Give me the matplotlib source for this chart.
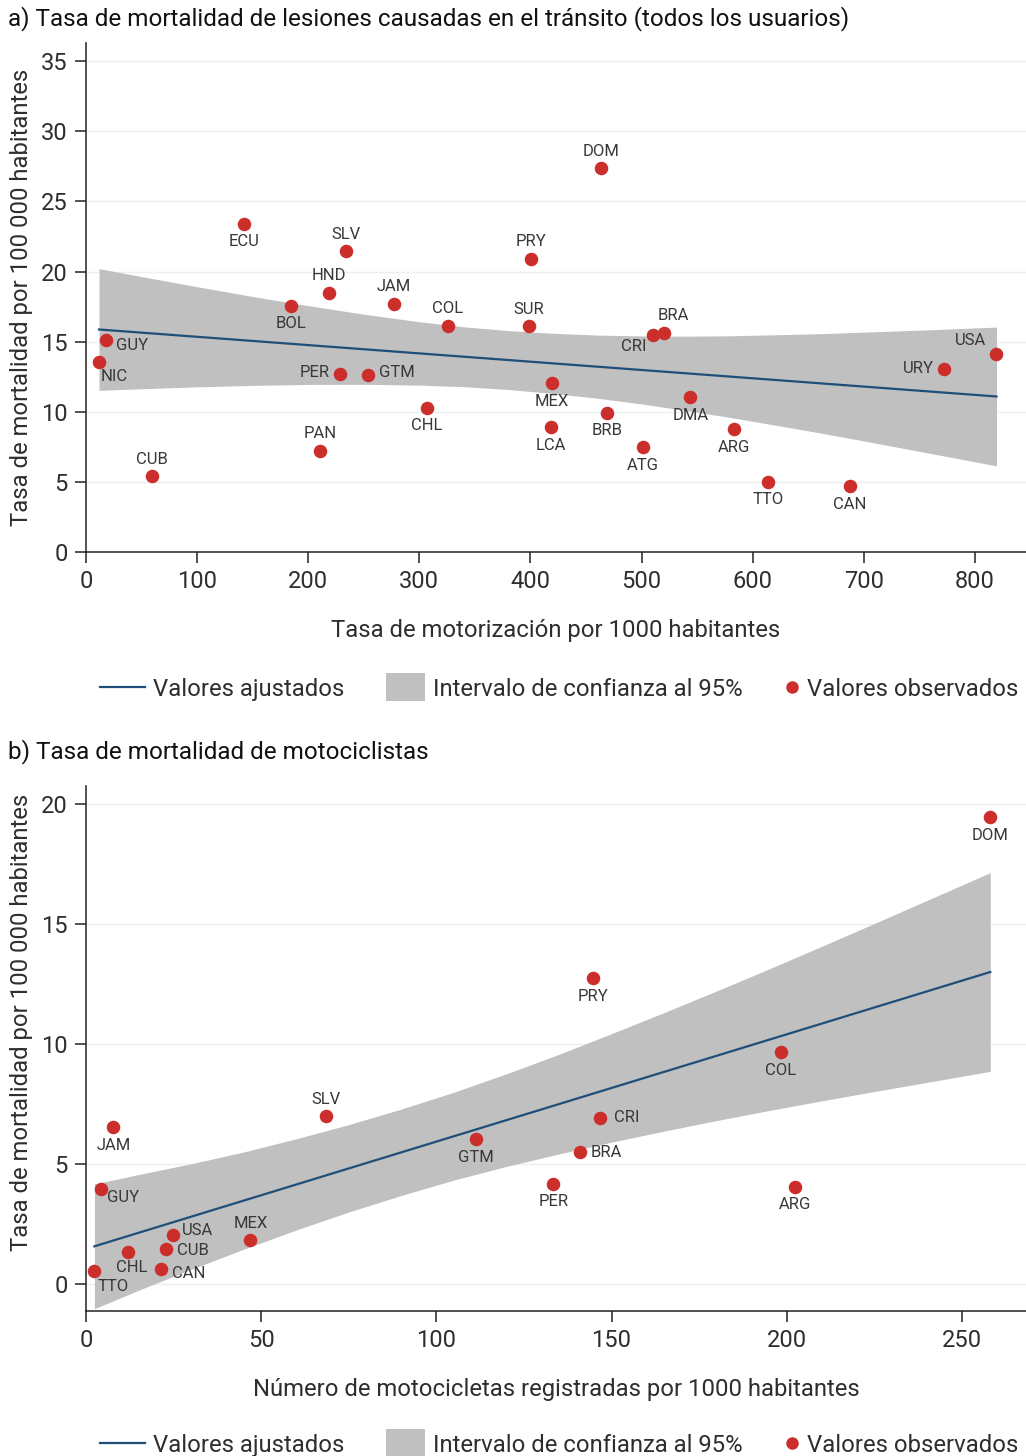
import numpy as np
import matplotlib
matplotlib.use("Agg")
import matplotlib.pyplot as plt
from matplotlib.lines import Line2D
from matplotlib.patches import Rectangle

plt.rcParams['font.family'] = ['Roboto', 'DejaVu Sans']

# ====== panel a: datos ======
paises_a = ["ECU", "SLV", "HND", "BOL", "JAM", "COL", "GUY", "NIC", "PER", "GTM",
            "CHL", "PAN", "CUB", "DOM", "PRY", "SUR", "CRI", "BRA", "USA", "URY",
            "MEX", "DMA", "BRB", "LCA", "ATG", "ARG", "TTO", "CAN"]
motorizacion = [142.3, 234.2, 218.9, 184.7, 277.2, 325.8, 18.0, 11.7, 228.2, 254.1,
                306.9, 210.5, 59.2, 463.2, 400.5, 398.3, 510.3, 520.3, 818.6, 771.9,
                419.3, 543.9, 468.6, 418.7, 501.2, 583.3, 613.8, 687.2]
mortalidad_a = [23.4, 21.45, 18.5, 17.55, 17.7, 16.15, 15.13, 13.57, 12.67, 12.59,
                10.29, 7.22, 5.39, 27.35, 20.91, 16.11, 15.45, 15.63, 14.13, 13.02,
                12.02, 11.03, 9.93, 8.89, 7.48, 8.77, 5.01, 4.70]

ajuste_x_a = [11.7, 819.5]
ajuste_y_a = [15.87, 11.09]
banda_x_a = [11.7, 50, 100, 150, 200, 250, 300, 340, 380, 420, 460, 500, 540, 580,
             620, 660, 700, 760, 819.5]
banda_sup_a = [20.21, 19.64, 18.92, 18.22, 17.57, 16.96, 16.42, 16.06, 15.79, 15.60,
               15.47, 15.41, 15.39, 15.42, 15.49, 15.57, 15.68, 15.85, 16.04]
banda_inf_a = [11.53, 11.64, 11.78, 11.88, 11.95, 11.96, 11.90, 11.79, 11.59, 11.31,
               10.97, 10.56, 10.09, 9.59, 9.05, 8.50, 7.92, 7.03, 6.14]

# ====== panel b: datos ======
paises_b = ["DOM", "PRY", "COL", "CRI", "GTM", "BRA", "PER", "ARG", "SLV", "JAM",
            "GUY", "USA", "CUB", "CAN", "CHL", "MEX", "TTO"]
motos = [258.1, 144.7, 198.3, 146.6, 111.3, 140.9, 133.4, 202.5, 68.4, 7.8,
         4.4, 24.8, 22.8, 21.5, 12.1, 46.9, 2.4]
mortalidad_b = [19.45, 12.74, 9.65, 6.90, 6.04, 5.51, 4.17, 4.05, 6.99, 6.54,
                3.97, 2.03, 1.44, 0.63, 1.35, 1.82, 0.53]

ajuste_x_b = [2.4, 258.1]
ajuste_y_b = [1.57, 13.00]
banda_x_b = [2.4, 15, 30, 45, 60, 75, 90, 105, 120, 135, 150, 165, 180, 195, 210,
             225, 240, 258.1]
banda_sup_b = [4.17, 4.56, 5.01, 5.50, 6.05, 6.64, 7.29, 7.99, 8.76, 9.57, 10.43,
               11.31, 12.21, 13.13, 14.07, 15.02, 15.98, 17.14]
banda_inf_b = [-1.03, -0.26, 0.61, 1.45, 2.25, 3.00, 3.69, 4.33, 4.90, 5.42, 5.91,
               6.37, 6.81, 7.23, 7.63, 8.02, 8.40, 8.86]

ticks_x_a = [0, 100, 200, 300, 400, 500, 600, 700, 800]
ticks_y_a = [0, 5, 10, 15, 20, 25, 30, 35]
ticks_x_b = [0, 50, 100, 150, 200, 250]
ticks_y_b = [0, 5, 10, 15, 20]

# label placement (pixel offsets, ha)
N = (0, 17, 'center')
S = (0, -18, 'center')
pos_a = {"ECU": S, "SLV": N, "HND": N, "BOL": S, "JAM": N, "COL": N, "DOM": N,
         "PRY": N, "SUR": N, "PAN": N, "CUB": N, "CHL": S, "MEX": S, "DMA": S,
         "BRB": S, "LCA": S, "ATG": S, "ARG": S, "TTO": S, "CAN": S,
         "GUY": (10, -6, 'left'), "NIC": (2, -15, 'left'), "PER": (-10, 2, 'right'),
         "GTM": (11, 3, 'left'), "CRI": (-7, -11, 'right'), "BRA": (9, 17, 'center'),
         "USA": (-9, 13, 'right'), "URY": (-10, 1, 'right')}
pos_b = {"DOM": S, "PRY": S, "COL": S, "GTM": S, "PER": S, "ARG": S, "JAM": S,
         "CHL": (3, -16, 'center'), "SLV": N, "MEX": N,
         "CRI": (14, 1, 'left'), "BRA": (11, -1, 'left'), "GUY": (6, -9, 'left'),
         "USA": (9, 5, 'left'), "CUB": (11, -1, 'left'), "CAN": (11, -5, 'left'),
         "TTO": (3, -15, 'left')}

ROJO = '#cc2e2b'
AZUL = '#1f4e79'
GRIS = '#c0c0c0'
TXT = '#2e2e2e'
FS = 17.2
W, H = 1026, 1456

fig = plt.figure(figsize=(W / 100, H / 100), dpi=100)

def px_ax(l, t, r, b):
    return [l / W, 1 - b / H, (r - l) / W, (b - t) / H]

def panel(ax, x, y, names, pos, lx, ly, bx, bs, bi, xt, yt, xlim, ylim, xlabel, ylab_y):
    ax.fill_between(bx, bi, bs, color=GRIS, lw=0, zorder=1)
    ax.plot(lx, ly, color=AZUL, lw=1.6, zorder=2)
    ax.scatter(x, y, s=95, color=ROJO, lw=0, zorder=3)
    for n, xi, yi in zip(names, x, y):
        dx, dy, ha = pos[n]
        ax.annotate(n, (xi, yi), xytext=(dx, dy), textcoords='offset pixels',
                    ha=ha, va='center', fontsize=12, color='#383838', zorder=4)
    ax.set_xlim(*xlim)
    ax.set_ylim(*ylim)
    ax.set_xticks(xt)
    ax.set_yticks(yt)
    ax.yaxis.grid(True, color='#e8f0f2', lw=1)
    ax.set_axisbelow(True)
    for s in ['top', 'right']:
        ax.spines[s].set_visible(False)
    for s in ['left', 'bottom']:
        ax.spines[s].set_color('#222222')
        ax.spines[s].set_linewidth(1.1)
    ax.tick_params(length=8, width=1.1, color='#222222', labelsize=17, pad=5,
                   labelcolor=TXT)
    ax.set_xlabel(xlabel, fontsize=FS, color=TXT, labelpad=19)
    ax.set_ylabel("Tasa de mortalidad por 100 000 habitantes", fontsize=FS, color=TXT)
    ax.yaxis.set_label_coords(-0.056, ylab_y)

def leyenda(yc):
    fy = 1 - yc / H
    fig.add_artist(Line2D([100 / W, 145 / W], [fy, fy], color=AZUL, lw=1.6))
    fig.text(153 / W, fy, "Valores ajustados", fontsize=FS,
             va='center_baseline', color=TXT)
    fig.add_artist(Rectangle((386 / W, 1 - (yc + 14) / H), 39 / W, 28 / H,
                             color=GRIS, lw=0))
    fig.text(433 / W, fy, "Intervalo de confianza al 95%", fontsize=FS,
             va='center_baseline', color=TXT)
    fig.add_artist(Line2D([792 / W], [fy], marker='o', ms=9, color=ROJO, lw=0,
                          markeredgewidth=0))
    fig.text(807 / W, fy, "Valores observados", fontsize=FS,
             va='center_baseline', color=TXT)

ax1 = fig.add_axes(px_ax(86, 43, 1026, 552))
panel(ax1, motorizacion, mortalidad_a, paises_a, pos_a, ajuste_x_a, ajuste_y_a,
      banda_x_a, banda_sup_a, banda_inf_a, ticks_x_a, ticks_y_a, (0, 846), (0, 36.3),
      "Tasa de motorización por 1000 habitantes", 0.5)
fig.text(8 / W, 1 - 19 / H, "a) Tasa de mortalidad de lesiones causadas en el tránsito (todos los usuarios)",
         fontsize=17.5, va='center', color='#111111')
leyenda(687)

ax2 = fig.add_axes(px_ax(86, 786, 1026, 1311))
panel(ax2, motos, mortalidad_b, paises_b, pos_b, ajuste_x_b, ajuste_y_b,
      banda_x_b, banda_sup_b, banda_inf_b, ticks_x_b, ticks_y_b, (0, 268.3), (-1.125, 20.75),
      "Número de motocicletas registradas por 1000 habitantes", 0.549)
fig.text(8 / W, 1 - 752 / H, "b) Tasa de mortalidad de motociclistas",
         fontsize=17.5, va='center', color='#111111')
leyenda(1443)

fig.savefig("out.png", dpi=100)
